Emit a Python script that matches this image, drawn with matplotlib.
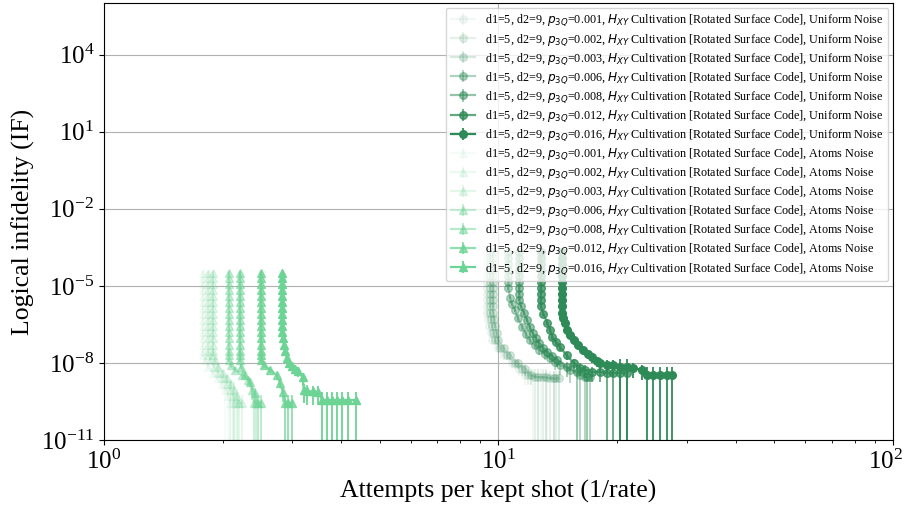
import numpy as np
import matplotlib
matplotlib.use("Agg")
import matplotlib.pyplot as plt
from matplotlib.transforms import ScaledTranslation

plt.rcParams['font.family'] = 'serif'
plt.rcParams['font.serif'] = ['Liberation Serif', 'DejaVu Serif']
plt.rcParams['mathtext.fontset'] = 'dejavusans'

p_values = ["0.001", "0.002", "0.003", "0.006", "0.008", "0.012", "0.016"]
alphas = [0.0625, 0.125, 0.1875, 0.375, 0.5, 0.75, 1.0]

# ---------------- Uniform noise ----------------
ux_001 = [9.35, 9.35, 9.35, 9.35, 9.35, 9.35, 9.35, 9.35, 9.35, 9.35, 9.37, 9.42, 9.47, 9.55, 9.65, 9.95, 10.3, 10.8, 11.3, 11.7, 12.2, 12.8, 13.3, 13.8]
uy_001 = [2e-4, 1.2e-4, 7e-5, 4e-5, 2.4e-5, 1.4e-5, 8e-6, 4.8e-6, 2.8e-6, 1.6e-6, 9e-7, 5e-7, 2.8e-7, 1.5e-7, 8e-8, 4e-8, 2e-8, 1e-8, 6e-9, 3.5e-9, 2.8e-9, 2.8e-9, 2.5e-9, 2.5e-9]
ur_001 = [0.15, 0.15, 0.15, 0.15, 0.15, 0.15, 0.15, 0.15, 0.15, 0.15, 0.15, 0.2, 0.2, 0.25, 0.3, 0.3, 0.35, 0.4, 0.5, 0.6, 1.0, 1.0, 1.0, 1.0]

ux_002 = [9.5, 9.5, 9.5, 9.5, 9.5, 9.5, 9.5, 9.5, 9.5, 9.5, 9.52, 9.57, 9.62, 9.7, 9.8, 10.1, 10.5, 11.0, 11.5, 11.9, 12.4, 13.0, 13.5, 14.0]
uy_002 = [2e-4, 1.2e-4, 7e-5, 4e-5, 2.4e-5, 1.4e-5, 8e-6, 4.8e-6, 2.8e-6, 1.6e-6, 9e-7, 5e-7, 2.8e-7, 1.5e-7, 8e-8, 4e-8, 2e-8, 1e-8, 6e-9, 3.5e-9, 2.8e-9, 2.8e-9, 2.5e-9, 2.5e-9]
ur_002 = [0.15, 0.15, 0.15, 0.15, 0.15, 0.15, 0.15, 0.15, 0.15, 0.15, 0.15, 0.2, 0.2, 0.25, 0.3, 0.3, 0.35, 0.4, 0.5, 0.6, 1.0, 1.0, 1.0, 1.0]

ux_003 = [9.68, 9.68, 9.68, 9.68, 9.68, 9.68, 9.68, 9.68, 9.68, 9.68, 9.7, 9.75, 9.8, 9.9, 10.0, 10.3, 10.7, 11.2, 11.7, 12.1, 12.6, 13.2, 13.8, 14.2]
uy_003 = [2e-4, 1.2e-4, 7e-5, 4e-5, 2.4e-5, 1.4e-5, 8e-6, 4.8e-6, 2.8e-6, 1.6e-6, 9e-7, 5e-7, 2.8e-7, 1.5e-7, 8e-8, 4e-8, 2e-8, 1e-8, 6e-9, 3.5e-9, 2.8e-9, 2.8e-9, 2.5e-9, 2.5e-9]
ur_003 = [0.15, 0.15, 0.15, 0.15, 0.15, 0.15, 0.15, 0.15, 0.15, 0.15, 0.15, 0.2, 0.2, 0.25, 0.3, 0.3, 0.35, 0.4, 0.5, 0.6, 1.0, 1.0, 1.0, 1.0]

ux_006 = [10.6, 10.6, 10.6, 10.6, 10.6, 10.6, 10.6, 10.7, 10.8, 11.0, 11.2, 11.5, 11.75, 12.0, 12.35, 12.7, 13.1, 13.5, 13.9, 14.3, 15.2, 16.1, 16.6, 17.1]
uy_006 = [2e-4, 1.2e-4, 7e-5, 4e-5, 2.4e-5, 1.4e-5, 8e-6, 3.5e-6, 2e-6, 1.2e-6, 5.5e-7, 2.5e-7, 1.3e-7, 7.9e-8, 4.8e-8, 3.2e-8, 2.2e-8, 1.6e-8, 1.1e-8, 8.4e-9, 5.4e-9, 3.4e-9, 2.8e-9, 2.8e-9]
ur_006 = [0.1, 0.1, 0.1, 0.1, 0.1, 0.1, 0.1, 0.15, 0.15, 0.2, 0.2, 0.25, 0.25, 0.3, 0.3, 0.35, 0.4, 0.4, 0.5, 0.6, 0.7, 1.0, 1.0, 1.0]

ux_008 = [11.3, 11.3, 11.3, 11.3, 11.3, 11.3, 11.3, 11.3, 11.3, 11.4, 11.6, 11.8, 12.0, 12.2, 12.45, 12.7, 13.0, 13.3, 13.7, 14.1, 14.9, 15.8, 16.8]
uy_008 = [2e-4, 1.2e-4, 7e-5, 4e-5, 2.4e-5, 1.4e-5, 8e-6, 4.8e-6, 2.8e-6, 1.6e-6, 9e-7, 4.8e-7, 2.5e-7, 1.5e-7, 9e-8, 6e-8, 3.8e-8, 2.7e-8, 1.8e-8, 1.3e-8, 7e-9, 4.5e-9, 2.8e-9]
ur_008 = [0.1, 0.1, 0.1, 0.1, 0.1, 0.1, 0.1, 0.1, 0.1, 0.15, 0.15, 0.2, 0.2, 0.25, 0.25, 0.3, 0.3, 0.35, 0.4, 0.45, 0.6, 1.0, 1.0]

ux_012 = [12.8, 12.8, 12.8, 12.8, 12.8, 12.8, 12.8, 12.8, 12.8, 12.8, 13.0, 13.3, 13.5, 13.7, 14.0, 14.3, 14.9, 15.5, 16.1, 16.6, 17.3, 18.1, 18.8, 19.5, 20.3, 21.2]
uy_012 = [2e-4, 1.2e-4, 7e-5, 4e-5, 2.4e-5, 1.4e-5, 8e-6, 4.8e-6, 2.8e-6, 1.6e-6, 8e-7, 3.6e-7, 2e-7, 1e-7, 6.5e-8, 4.2e-8, 2e-8, 1e-8, 6.4e-9, 5.4e-9, 4.5e-9, 4.5e-9, 4.1e-9, 4.1e-9, 4.1e-9, 4.1e-9]
ur_012 = [0.1, 0.1, 0.1, 0.1, 0.1, 0.1, 0.1, 0.1, 0.1, 0.1, 0.15, 0.15, 0.2, 0.2, 0.25, 0.3, 0.35, 0.4, 0.5, 0.5, 0.6, 0.6, 1.0, 1.0, 1.0, 1.0]

ux_016 = [14.5, 14.5, 14.5, 14.5, 14.5, 14.5, 14.5, 14.5, 14.5, 14.5, 14.5, 14.6, 14.7, 14.9, 15.2, 15.5, 15.9, 16.4, 16.9, 17.3, 17.8, 18.1, 18.8, 19.5, 20.3, 21.2, 21.9, 23.1, 23.8, 24.6, 25.7, 26.7, 27.5]
uy_016 = [2e-4, 1.2e-4, 7e-5, 4e-5, 2.4e-5, 1.4e-5, 8e-6, 4.8e-6, 2.8e-6, 1.6e-6, 9e-7, 5.5e-7, 3.5e-7, 1.9e-7, 1.2e-7, 7.9e-8, 5e-8, 3.2e-8, 2.2e-8, 1.7e-8, 1.2e-8, 1e-8, 8.4e-9, 8e-9, 7e-9, 7e-9, 6.4e-9, 5.4e-9, 3.4e-9, 3.4e-9, 3.4e-9, 3.4e-9, 3.4e-9]
ur_016 = [0.1, 0.1, 0.1, 0.1, 0.1, 0.1, 0.1, 0.1, 0.1, 0.1, 0.1, 0.15, 0.15, 0.2, 0.2, 0.25, 0.3, 0.3, 0.35, 0.4, 0.4, 0.5, 0.5, 0.6, 1.0, 1.0, 0.6, 0.6, 1.0, 1.0, 1.0, 1.0, 1.0]

# ---------------- Atoms noise ----------------
ax_001 = [1.78, 1.78, 1.78, 1.78, 1.78, 1.78, 1.78, 1.78, 1.78, 1.78, 1.78, 1.78, 1.78, 1.78, 1.78, 1.80, 1.84, 1.89, 1.94, 1.99, 2.03, 2.06, 2.09, 2.12]
ay_001 = [3.2e-5, 2e-5, 1.2e-5, 7e-6, 4e-6, 2.4e-6, 1.4e-6, 8e-7, 4.8e-7, 2.8e-7, 1.6e-7, 9e-8, 5e-8, 3e-8, 2e-8, 1.3e-8, 7e-9, 4e-9, 2.5e-9, 1.5e-9, 9e-10, 5e-10, 2.8e-10, 2.8e-10]
ar_001 = [0.15, 0.15, 0.15, 0.15, 0.15, 0.15, 0.15, 0.15, 0.15, 0.15, 0.15, 0.15, 0.15, 0.15, 0.15, 0.2, 0.25, 0.3, 0.35, 0.45, 1.0, 1.0, 1.0, 1.0]

ax_002 = [1.84, 1.84, 1.84, 1.84, 1.84, 1.84, 1.84, 1.84, 1.84, 1.84, 1.84, 1.84, 1.84, 1.84, 1.84, 1.86, 1.90, 1.95, 2.00, 2.05, 2.09, 2.12, 2.15, 2.19]
ay_002 = [3.2e-5, 2e-5, 1.2e-5, 7e-6, 4e-6, 2.4e-6, 1.4e-6, 8e-7, 4.8e-7, 2.8e-7, 1.6e-7, 9e-8, 5e-8, 3e-8, 2e-8, 1.3e-8, 7e-9, 4e-9, 2.5e-9, 1.5e-9, 9e-10, 5e-10, 2.8e-10, 2.8e-10]
ar_002 = [0.15, 0.15, 0.15, 0.15, 0.15, 0.15, 0.15, 0.15, 0.15, 0.15, 0.15, 0.15, 0.15, 0.15, 0.15, 0.2, 0.25, 0.3, 0.35, 0.45, 1.0, 1.0, 1.0, 1.0]

ax_003 = [1.89, 1.89, 1.89, 1.89, 1.89, 1.89, 1.89, 1.89, 1.89, 1.89, 1.89, 1.89, 1.89, 1.89, 1.89, 1.91, 1.95, 2.00, 2.05, 2.10, 2.14, 2.17, 2.20, 2.24]
ay_003 = [3.2e-5, 2e-5, 1.2e-5, 7e-6, 4e-6, 2.4e-6, 1.4e-6, 8e-7, 4.8e-7, 2.8e-7, 1.6e-7, 9e-8, 5e-8, 3e-8, 2e-8, 1.3e-8, 7e-9, 4e-9, 2.5e-9, 1.5e-9, 9e-10, 5e-10, 2.8e-10, 2.8e-10]
ar_003 = [0.15, 0.15, 0.15, 0.15, 0.15, 0.15, 0.15, 0.15, 0.15, 0.15, 0.15, 0.15, 0.15, 0.15, 0.15, 0.2, 0.25, 0.3, 0.35, 0.45, 1.0, 1.0, 1.0, 1.0]

ax_006 = [2.07, 2.07, 2.07, 2.07, 2.07, 2.07, 2.07, 2.07, 2.07, 2.07, 2.07, 2.07, 2.07, 2.07, 2.07, 2.07, 2.10, 2.15, 2.24, 2.32, 2.37, 2.40, 2.43]
ay_006 = [3.2e-5, 2e-5, 1.2e-5, 7e-6, 4e-6, 2.4e-6, 1.4e-6, 8e-7, 4.8e-7, 2.8e-7, 1.6e-7, 9e-8, 5e-8, 3e-8, 2e-8, 1.3e-8, 8e-9, 5.4e-9, 3.4e-9, 2.2e-9, 8.9e-10, 2.8e-10, 2.8e-10]
ar_006 = [0.15, 0.15, 0.15, 0.15, 0.15, 0.15, 0.15, 0.15, 0.15, 0.15, 0.15, 0.15, 0.15, 0.15, 0.15, 0.15, 0.2, 0.25, 0.3, 0.4, 0.6, 1.0, 1.0]

ax_008 = [2.21, 2.21, 2.21, 2.21, 2.21, 2.21, 2.21, 2.21, 2.21, 2.21, 2.21, 2.21, 2.21, 2.21, 2.21, 2.21, 2.23, 2.28, 2.34, 2.41, 2.46, 2.50]
ay_008 = [3.2e-5, 2e-5, 1.2e-5, 7e-6, 4e-6, 2.4e-6, 1.4e-6, 8e-7, 4.8e-7, 2.8e-7, 1.6e-7, 9e-8, 5e-8, 3e-8, 2e-8, 1.3e-8, 7e-9, 3.4e-9, 1.9e-9, 6.8e-10, 2.8e-10, 2.8e-10]
ar_008 = [0.15, 0.15, 0.15, 0.15, 0.15, 0.15, 0.15, 0.15, 0.15, 0.15, 0.15, 0.15, 0.15, 0.15, 0.15, 0.15, 0.2, 0.3, 0.4, 0.6, 1.0, 1.0]

ax_012 = [2.50, 2.50, 2.50, 2.50, 2.50, 2.50, 2.50, 2.50, 2.50, 2.50, 2.50, 2.50, 2.50, 2.50, 2.50, 2.50, 2.55, 2.64, 2.74, 2.79, 2.84, 2.88, 2.93, 3.00]
ay_012 = [3.2e-5, 2e-5, 1.2e-5, 7e-6, 4e-6, 2.4e-6, 1.4e-6, 8e-7, 4.8e-7, 2.8e-7, 1.6e-7, 9e-8, 5e-8, 3e-8, 2e-8, 1.3e-8, 8e-9, 5.4e-9, 3.4e-9, 1.7e-9, 7.4e-10, 2.8e-10, 2.8e-10, 2.8e-10]
ar_012 = [0.15, 0.15, 0.15, 0.15, 0.15, 0.15, 0.15, 0.15, 0.15, 0.15, 0.15, 0.15, 0.15, 0.15, 0.15, 0.15, 0.2, 0.25, 0.3, 0.4, 0.6, 1.0, 1.0, 1.0]

ax_016 = [2.83, 2.83, 2.83, 2.83, 2.83, 2.83, 2.83, 2.83, 2.83, 2.83, 2.83, 2.84, 2.86, 2.88, 2.91, 2.95, 3.00, 3.05, 3.10, 3.19, 3.21, 3.28, 3.38, 3.48, 3.58, 3.68, 3.78, 3.90, 4.02, 4.15, 4.35]
ay_016 = [3.2e-5, 2e-5, 1.2e-5, 7e-6, 4e-6, 2.4e-6, 1.4e-6, 8e-7, 4.8e-7, 2.8e-7, 1.6e-7, 9e-8, 5e-8, 3e-8, 1.5e-8, 1e-8, 7.6e-9, 6e-9, 4.9e-9, 2.8e-9, 9e-10, 8e-10, 7.8e-10, 7.5e-10, 3.6e-10, 3.6e-10, 3.6e-10, 3.6e-10, 3.6e-10, 3.6e-10, 3.6e-10]
ar_016 = [0.15, 0.15, 0.15, 0.15, 0.15, 0.15, 0.15, 0.15, 0.15, 0.15, 0.15, 0.2, 0.2, 0.25, 0.3, 0.3, 0.35, 0.4, 0.4, 0.5, 0.7, 0.7, 0.7, 0.7, 1.0, 1.0, 1.0, 1.0, 1.0, 1.0, 1.0]

uniform = [(ux_001, uy_001, ur_001), (ux_002, uy_002, ur_002), (ux_003, uy_003, ur_003),
           (ux_006, uy_006, ur_006), (ux_008, uy_008, ur_008), (ux_012, uy_012, ur_012),
           (ux_016, uy_016, ur_016)]
atoms = [(ax_001, ay_001, ar_001), (ax_002, ay_002, ar_002), (ax_003, ay_003, ar_003),
         (ax_006, ay_006, ar_006), (ax_008, ay_008, ar_008), (ax_012, ay_012, ar_012),
         (ax_016, ay_016, ar_016)]

uniform_color = '#2e8b57'
atoms_color = '#6cd494'

fig = plt.figure(figsize=(9.08, 5.19), dpi=100)
ax = fig.add_axes([0.1145, 0.152, 0.869, 0.842])
ax.set_xscale('log')
ax.set_yscale('log')

for (xs, ys, rs), p, a in zip(uniform, p_values, alphas):
    xs = np.array(xs); ys = np.array(ys); rs = np.array(rs)
    ax.errorbar(xs, ys, yerr=ys * rs, fmt='-o', color=uniform_color, alpha=a,
                markersize=5.5, linewidth=1.6, elinewidth=1.3,
                label=f'd1=5, d2=9, $p_{{3Q}}$={p}, $H_{{XY}}$ Cultivation [Rotated Surface Code], Uniform Noise')
for (xs, ys, rs), p, a in zip(atoms, p_values, alphas):
    xs = np.array(xs); ys = np.array(ys); rs = np.array(rs)
    ax.errorbar(xs, ys, yerr=ys * rs, fmt='-^', color=atoms_color, alpha=a,
                markersize=6, linewidth=1.6, elinewidth=1.3,
                label=f'd1=5, d2=9, $p_{{3Q}}$={p}, $H_{{XY}}$ Cultivation [Rotated Surface Code], Atoms Noise')

ax.set_xlim(1, 100)
ax.set_ylim(1e-11, 1e6)
ax.set_yticks([1e-11, 1e-8, 1e-5, 1e-2, 1e1, 1e4])
ax.yaxis.set_minor_locator(matplotlib.ticker.NullLocator())
ax.grid(True, which='major', color='#b0b0b0', linewidth=0.8)
ax.tick_params(axis='both', which='major', labelsize=18)
ax.set_xlabel('Attempts per kept shot (1/rate)', fontsize=18.5)
ax.set_ylabel('Logical infidelity (IF)', fontsize=18.5)
ax.legend(loc='upper right', fontsize=8.7, labelspacing=0.28, borderaxespad=0.4,
          handlelength=2.0)

# keep the rightmost x tick label inside the canvas
fig.canvas.draw()
for lbl in ax.get_xticklabels():
    if lbl.get_position()[0] >= 99:
        lbl.set_transform(lbl.get_transform() + ScaledTranslation(-8 / 100, 0, fig.dpi_scale_trans))

fig.savefig('out.png', dpi=100)
